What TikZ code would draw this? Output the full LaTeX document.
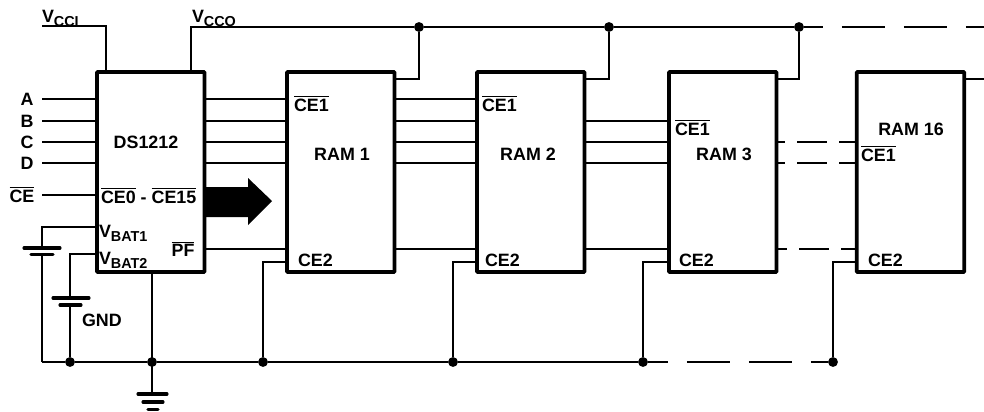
\documentclass[tikz,border=0pt]{standalone}
\usepackage{fontspec}
\setmainfont{Liberation Sans}
\newcommand{\ovl}[1]{\ensuremath{\overline{\mbox{\bfseries #1}}}}
\newcommand{\subt}[1]{\raisebox{-3pt}{\fontsize{10.8}{12}\selectfont\bfseries #1}}
\tikzset{
  wire/.style={line width=1.25pt,line cap=butt},
  chip/.style={draw,line width=2.8pt,rounded corners=0.6pt,minimum width=80.6pt,minimum height=150pt,inner sep=0pt,outer sep=0pt},
  dot/.style={circle,fill=black,inner sep=0pt,outer sep=0pt,minimum size=7.4pt},
  lbl/.style={inner sep=0pt,outer sep=0pt,anchor=base,font=\fontsize{13.4}{16}\selectfont\bfseries},
  lblw/.style={lbl,anchor=base west},
  plate/.style={line width=2.3pt,line cap=round},
  busdash/.style={wire,dash pattern=on 32.25pt off 14.25pt},
  sigdash/.style={wire,dash pattern=on 22.5pt off 9pt}
}
\begin{document}
\begin{tikzpicture}[x=0.75pt,y=-0.75pt]
\useasboundingbox (0,0) rectangle (984,411);
% chips
\node[chip] (ds) at (150.75,172) {};
\node[chip] (r1) at (340.75,172) {};
\node[chip] (r2) at (530.75,172) {};
\node[chip] (r3) at (722.75,172) {};
\node[chip] (r16) at (910.5,172) {};
% junctions
\node[dot] (j1) at (419,27) {};
\node[dot] (j2) at (609,27) {};
\node[dot] (j3) at (799,27) {};
\node[dot] (g0) at (70,362) {};
\node[dot] (g1) at (152,362) {};
\node[dot] (g2) at (263,362) {};
\node[dot] (g3) at (453,362) {};
\node[dot] (g4) at (643,362) {};
\node[dot] (g5) at (833,362) {};
% free ends
\coordinate (vccistart) at (42,26);
\coordinate (busend) at (984,27);
\coordinate (r16end) at (984,79);
\coordinate (gndleft) at (42,362);
\coordinate (gndtop) at (152,394);
% supply
\draw[wire] (vccistart) -| (ds.north -| 106,0);
\draw[wire] (ds.north -| 191,0) |- (j1);
\draw[wire] (j1) -- (j2);
\draw[wire] (j2) -- (j3);
\draw[busdash,dash phase=18pt] (j3) -- (busend);
\draw[wire] (r1.east |- 0,79) -| (j1);
\draw[wire] (r2.east |- 0,79) -| (j2);
\draw[wire] (r3.east |- 0,79) -| (j3);
\draw[wire] (r16.east |- 0,79) -- (r16end);
% inputs
\foreach \n/\y/\tx in {a/99/A,b/121/B,c/142/C,d/163/D}{
  \node[lbl] (lab\n) at (27,\y+6) {\tx};
  \draw[wire] (42,\y) -- (ds.west |- 0,\y);
}
\node[lbl] (labce) at (22,202) {\ovl{CE}};
\draw[wire] (42,195) -- (ds.west |- 0,195);
% chip-to-chip signals
\foreach \y in {99,121,142,163}{
  \draw[wire] (ds.east |- 0,\y) -- (r1.west |- 0,\y);
  \draw[wire] (r1.east |- 0,\y) -- (r2.west |- 0,\y);
}
\foreach \y in {121,142,163}{
  \draw[wire] (r2.east |- 0,\y) -- (r3.west |- 0,\y);
}
\foreach \y in {142,163}{
  \draw[sigdash,dash phase=15.75pt] (r3.east |- 0,\y) -- (r16.west |- 0,\y);
}
% PF line
\draw[wire] (ds.east |- 0,249) -- (r1.west |- 0,249);
\draw[wire] (r1.east |- 0,249) -- (r2.west |- 0,249);
\draw[wire] (r2.east |- 0,249) -- (r3.west |- 0,249);
\draw[sigdash,dash phase=14.25pt] (r3.east |- 0,249) -- (r16.west |- 0,249);
% CE2 returns
\draw[wire] (r1.west |- 0,262) -| (g2);
\draw[wire] (r2.west |- 0,262) -| (g3);
\draw[wire] (r3.west |- 0,262) -| (g4);
\draw[wire] (r16.west |- 0,262) -| (g5);
% ground bus
\draw[wire] (gndleft) -- (g0);
\draw[wire] (g0) -- (g1);
\draw[wire] (g1) -- (g2);
\draw[wire] (g2) -- (g3);
\draw[wire] (g3) -- (g4);
\draw[busdash,dash phase=17.25pt] (g4) -- (g5);
\draw[wire] (ds.south -| g1) -- (gndtop);
% batteries
\draw[wire] (ds.west |- 0,227) -| (gndleft);
\draw[wire] (ds.west |- 0,254) -| (g0);
\fill[white] (20,249.5) rectangle (64,253);
\fill[white] (48,299.5) rectangle (94,304);
\draw[plate] (24,248) -- (60,248);
\draw[plate] (31,254.5) -- (53,254.5);
\draw[plate] (53,298) -- (89,298);
\draw[plate] (60,305) -- (81,305);
% ground symbol
\draw[plate] (138,394) -- (167,394);
\draw[plate] (143,402) -- (163,402);
\draw[plate] (148,409.5) -- (158,409.5);
% big arrow
\fill (206,187) -- (248,187) -- (248,178) -- (272,201) -- (248,225) -- (248,217) -- (206,217) -- cycle;
% labels
\node[lblw] (vcci) at (42,22.5) {V\subt{CCI}};
\node[lblw] (vcco) at (192,22.5) {V\subt{CCO}};
\node[lbl] (dsname) at (146,148) {DS1212};
\node[lblw] (ceall) at (101,203) {\ovl{CE0} - \ovl{CE15}};
\node[lblw] (vb1) at (99,237) {V\subt{BAT1}};
\node[lblw] (vb2) at (99,264) {V\subt{BAT2}};
\node[lbl] (pf) at (183,256) {\ovl{PF}};
\node[lblw] (gnd) at (82,326) {GND};
\node[lblw] (ce1a) at (294,111) {\ovl{CE1}};
\node[lblw] (ce1b) at (482,111) {\ovl{CE1}};
\node[lblw] (ce1c) at (675,135) {\ovl{CE1}};
\node[lblw] (ce1d) at (861,161) {\ovl{CE1}};
\node[lbl] (n1) at (342,160) {RAM 1};
\node[lbl] (n2) at (528,160) {RAM 2};
\node[lbl] (n3) at (724,160) {RAM 3};
\node[lbl] (n16) at (911,135) {RAM 16};
\node[lblw] (ce2a) at (298,266) {CE2};
\node[lblw] (ce2b) at (485,266) {CE2};
\node[lblw] (ce2c) at (679,266) {CE2};
\node[lblw] (ce2d) at (868,266) {CE2};
\end{tikzpicture}
\end{document}
